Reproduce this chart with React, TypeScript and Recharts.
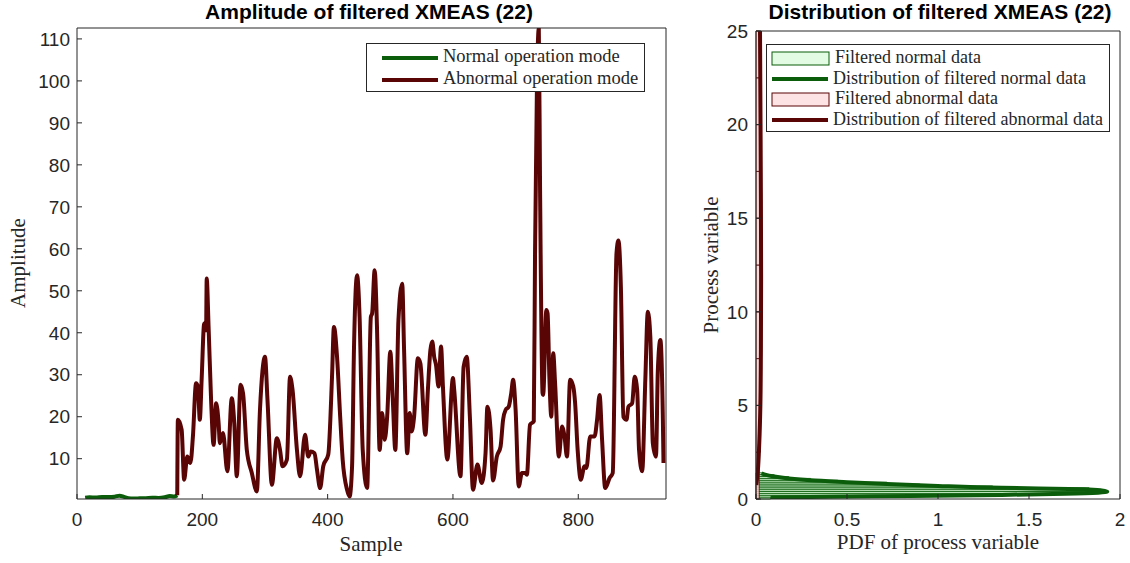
import {
  LineChart,
  ComposedChart,
  Line,
  XAxis,
  YAxis,
  ReferenceArea,
  Legend,
} from 'recharts';

// left panel: filtered XMEAS(22) over samples
const normalSample = [13, 20, 30, 40, 50, 60, 68, 75, 82, 90, 100, 110, 120, 130, 140, 148, 155, 160];
const normalAmp = [0.7, 0.8, 0.75, 0.9, 0.85, 0.95, 1.2, 0.9, 0.6, 0.5, 0.55, 0.6, 0.7, 0.65, 0.8, 1.1, 1.0, 1.3];

const abnormalSample = [
  160, 161, 167, 171, 176, 181, 185, 190, 193, 196, 199, 203, 206, 207, 210, 214, 218, 222, 226, 228,
  233, 240, 247, 251, 255, 261, 265, 271, 279, 287, 292, 300, 304, 311, 319, 324, 328, 335, 340, 344,
  351, 356, 364, 369, 373, 379, 383, 388, 393, 401, 407, 410, 415, 420, 424, 431, 435, 439, 442, 447,
  451, 456, 463, 469, 471, 475, 479, 483, 487, 491, 495, 500, 504, 508, 513, 519, 522, 527, 531, 534,
  538, 544, 548, 556, 560, 564, 567, 570, 573, 577, 581, 584, 591, 600, 602, 612, 617, 622, 627, 632,
  639, 646, 652, 655, 660, 664, 670, 676, 680, 684, 689, 693, 696, 700, 705, 710, 715, 718, 723, 729,
  731, 734, 737, 739, 743, 744, 749, 751, 754, 757, 760, 763, 769, 774, 778, 782, 787, 792, 795, 799,
  804, 810, 813, 819, 826, 830, 834, 838, 843, 850, 855, 861, 864, 868, 872, 877, 880, 886, 890, 894,
  897, 902, 907, 911, 915, 919, 924, 927, 931, 935, 936,
];
const abnormalAmp = [
  1.3, 19.3, 16.9, 5, 10.5, 9, 15.3, 28, 27.2, 19.3, 29.2, 42.2, 40.6, 52.9, 41.4, 24, 13.3, 23.2, 18.5, 13.7,
  16.1, 7, 24.4, 18.5, 5.8, 27.6, 25.6, 12.1, 6.6, 2.2, 21.6, 34.3, 24, 3.8, 14.9, 12.1, 8.2, 9.8, 29.5, 26.4,
  12.1, 5.8, 15.7, 10.5, 11.7, 11.3, 7.4, 3, 8.2, 11, 29.5, 41.4, 34.3, 20, 9.8, 2.6, 1, 8.2, 35.9, 53.7,
  43.8, 12.1, 3, 43.8, 44.6, 54.9, 39.9, 12.1, 20.9, 14.5, 20, 35.5, 24, 12.1, 43, 51.7, 35.9, 11.3, 20.9, 16.5,
  20, 33.9, 32.7, 15.7, 26.4, 35.9, 37.9, 34.3, 32.3, 27.2, 36.7, 27.2, 9.8, 29.2, 26.4, 5.8, 31.9, 34.3, 20, 2.6,
  8.6, 4.2, 11.3, 22.4, 16.9, 4.8, 10.5, 12.9, 19.3, 21.6, 22.4, 25.6, 28.8, 21.6, 3.4, 6.6, 6.6, 6.2, 18.1, 18.9,
  58.9, 98.4, 112.6, 74.7, 25.6, 25.2, 45.4, 44.6, 28.8, 20, 35.1, 28, 10.5, 17.7, 15.3, 10.5, 28.8, 27.2, 23.2, 12.1,
  5, 8.2, 7.8, 15.3, 15.3, 19.3, 25.2, 14.5, 3, 5.4, 6.6, 58.9, 62, 50.9, 20, 19.3, 22.4, 23.2, 29.5, 26.4,
  12.1, 7, 28.8, 45, 39, 13.7, 10.5, 31.1, 38.3, 19.3, 9,
];

const sampleTicks = [0, 200, 400, 600, 800];
const ampTicks = [10, 20, 30, 40, 50, 60, 70, 80, 90, 100, 110];

// right panel: distributions
const normalPdfValue = [0.08, 0.12, 0.16, 0.22, 0.28, 0.34, 0.4, 0.46, 0.52, 0.6, 0.7, 0.8, 0.9, 1.0, 1.1, 1.2, 1.3, 1.38];
const normalPdf = [0.08, 0.4, 0.85, 1.35, 1.7, 1.88, 1.93, 1.9, 1.8, 1.35, 1.0, 0.72, 0.5, 0.3, 0.18, 0.1, 0.05, 0.03];
const normalBinEdges = [0.0, 0.1, 0.2, 0.3, 0.4, 0.5, 0.6, 0.7, 0.8, 0.9, 1.0, 1.1, 1.2, 1.3, 1.4];
const normalBinPdf = [0.08, 0.7, 1.5, 1.86, 1.88, 1.83, 1.3, 0.9, 0.72, 0.45, 0.3, 0.18, 0.1, 0.04];

const abnormalPdfValue = [0.75, 1.5, 3, 5, 8, 12, 16, 20, 25];
const abnormalPdf = [0.002, 0.01, 0.018, 0.024, 0.027, 0.028, 0.027, 0.025, 0.022];
const abnormalBinEdges = [0, 2.5, 5, 7.5, 10, 12.5, 15, 17.5, 20, 22.5, 25];
const abnormalBinPdf = [0.018, 0.024, 0.028, 0.03, 0.029, 0.027, 0.025, 0.024, 0.022, 0.02];

const pdfTicks = [0, 0.5, 1, 1.5, 2];
const valueTicks = [0, 5, 10, 15, 20, 25];

const GREEN = '#0b5d0b';
const MAROON = '#5a0505';
const AXIS = '#262626';
const SANS = '"Liberation Sans", Arial, sans-serif';
const SERIF = '"Liberation Serif", "Times New Roman", serif';

const normalData = normalSample.map((s, i) => ({ s, a: normalAmp[i] }));
const abnormalData = abnormalSample.map((s, i) => ({ s, a: abnormalAmp[i] }));
const normalPdfData = normalPdfValue.map((v, i) => ({ v, pdf: normalPdf[i] }));
const abnormalPdfData = abnormalPdfValue.map((v, i) => ({ v, pdf: abnormalPdf[i] }));

const tickStyle = { fill: AXIS, fontSize: 19, fontFamily: SANS };

const legendBox: React.CSSProperties = {
  display: 'inline-block',
  whiteSpace: 'nowrap',
  border: `1px solid ${AXIS}`,
  background: '#fff',
  fontFamily: SERIF,
  fontSize: 18.5,
  color: AXIS,
  padding: '2px 6px 2px 4px',
  lineHeight: '21px',
};

function LineSample({ color }: { color: string }) {
  return (
    <svg width={58} height={10} style={{ marginRight: 4, verticalAlign: 'middle' }}>
      <line x1={1} y1={5} x2={57} y2={5} stroke={color} strokeWidth={4} />
    </svg>
  );
}

function PatchSample({ fill, stroke }: { fill: string; stroke: string }) {
  return (
    <svg width={60} height={16} style={{ marginRight: 4, verticalAlign: 'middle' }}>
      <rect x={1} y={1} width={57} height={13} fill={fill} stroke={stroke} strokeWidth={1} />
    </svg>
  );
}

function AmplitudeLegend() {
  return (
    <div style={{ ...legendBox, padding: '1px 6px 2px 14px', lineHeight: '22px' }}>
      <div><LineSample color={GREEN} />Normal operation mode</div>
      <div><LineSample color={MAROON} />Abnormal operation mode</div>
    </div>
  );
}

function DistributionLegend() {
  return (
    <div style={{ ...legendBox, fontSize: 18, lineHeight: '20.5px' }}>
      <div><PatchSample fill="#e3fbe3" stroke={GREEN} />Filtered normal data</div>
      <div><LineSample color={GREEN} />Distribution of filtered normal data</div>
      <div><PatchSample fill="#fde3e3" stroke={MAROON} />Filtered abnormal data</div>
      <div><LineSample color={MAROON} />Distribution of filtered abnormal data</div>
    </div>
  );
}

const titleStyle: React.CSSProperties = {
  position: 'absolute',
  top: 0,
  fontFamily: SANS,
  fontWeight: 'bold',
  fontSize: 21,
  color: '#000',
  whiteSpace: 'nowrap',
  transform: 'translateX(-50%)',
};

const labelStyle: React.CSSProperties = {
  position: 'absolute',
  fontFamily: SERIF,
  fontSize: 21,
  color: AXIS,
  whiteSpace: 'nowrap',
};

export default function App() {
  return (
    <div style={{ position: 'absolute', left: 0, top: 0, width: 1130, height: 563, background: '#fff' }}>
      <div style={{ ...titleStyle, left: 369 }}>Amplitude of filtered XMEAS (22)</div>
      <div style={{ ...titleStyle, left: 940 }}>Distribution of filtered XMEAS (22)</div>

      <div style={{ position: 'absolute', left: 0, top: 0 }}>
        <LineChart width={700} height={563} margin={{ top: 27, right: 33, left: 17, bottom: 24 }}>
          <XAxis
            type="number"
            dataKey="s"
            domain={[0, 940]}
            ticks={sampleTicks}
            allowDataOverflow
            stroke={AXIS}
            tickSize={-5}
            tickMargin={19}
            height={40}
            tick={tickStyle}
          />
          <XAxis
            xAxisId="top"
            orientation="top"
            type="number"
            domain={[0, 940]}
            ticks={sampleTicks}
            stroke={AXIS}
            tickSize={-5}
            height={1}
            tickFormatter={() => ''}
          />
          <YAxis
            type="number"
            domain={[0.4, 112.6]}
            ticks={ampTicks}
            allowDataOverflow
            stroke={AXIS}
            tickSize={-5}
            tickMargin={12}
            width={60}
            tick={tickStyle}
          />
          <YAxis
            yAxisId="right"
            orientation="right"
            type="number"
            domain={[0.4, 112.6]}
            ticks={ampTicks}
            stroke={AXIS}
            tickSize={-5}
            width={1}
            tickFormatter={() => ''}
          />
          <Legend
            layout="horizontal"
            align="center"
            verticalAlign="middle"
            content={() => <AmplitudeLegend />}
            wrapperStyle={{ left: 366, top: 43, width: 'auto' }}
          />
          <Line
            data={normalData}
            dataKey="a"
            type="monotone"
            stroke={GREEN}
            strokeWidth={4}
            dot={false}
            isAnimationActive={false}
            name="Normal operation mode"
          />
          <Line
            data={abnormalData}
            dataKey="a"
            type="monotone"
            stroke={MAROON}
            strokeWidth={4}
            dot={false}
            isAnimationActive={false}
            name="Abnormal operation mode"
          />
        </LineChart>
      </div>

      <div style={{ position: 'absolute', left: 690, top: 0 }}>
        <ComposedChart layout="vertical" width={440} height={563} margin={{ top: 30, right: 9, left: 16, bottom: 24 }}>
          <XAxis
            type="number"
            domain={[0, 2]}
            ticks={pdfTicks}
            allowDataOverflow
            stroke={AXIS}
            tickSize={-5}
            tickMargin={19}
            height={40}
            tick={tickStyle}
          />
          <XAxis
            xAxisId="top"
            orientation="top"
            type="number"
            domain={[0, 2]}
            ticks={pdfTicks}
            stroke={AXIS}
            tickSize={-5}
            height={1}
            tickFormatter={() => ''}
          />
          <YAxis
            type="number"
            dataKey="v"
            domain={[0, 25]}
            ticks={valueTicks}
            reversed
            allowDataOverflow
            stroke={AXIS}
            tickSize={-5}
            tickMargin={13}
            width={50}
            tick={tickStyle}
          />
          <YAxis
            yAxisId="right"
            orientation="right"
            type="number"
            domain={[0, 25]}
            ticks={valueTicks}
            reversed
            stroke={AXIS}
            tickSize={-5}
            width={1}
            tickFormatter={() => ''}
          />
          {normalBinPdf.map((p, i) => (
            <ReferenceArea
              key={`n${i}`}
              x1={0}
              x2={p}
              y1={normalBinEdges[i]}
              y2={normalBinEdges[i + 1]}
              fill="#c8f5c8"
              fillOpacity={0.8}
              stroke={GREEN}
              strokeWidth={0.8}
            />
          ))}
          <Line
            data={normalPdfData}
            dataKey="pdf"
            type="monotone"
            stroke={GREEN}
            strokeWidth={4}
            dot={false}
            isAnimationActive={false}
            name="Distribution of filtered normal data"
          />
          {abnormalBinPdf.map((p, i) => (
            <ReferenceArea
              key={`a${i}`}
              x1={0}
              x2={p}
              y1={abnormalBinEdges[i]}
              y2={abnormalBinEdges[i + 1]}
              fill="#fbd0d0"
              fillOpacity={0.8}
              stroke={MAROON}
              strokeWidth={0.8}
            />
          ))}
          <Line
            data={abnormalPdfData}
            dataKey="pdf"
            type="monotone"
            stroke={MAROON}
            strokeWidth={4}
            dot={false}
            isAnimationActive={false}
            name="Distribution of filtered abnormal data"
          />
          <Legend
            layout="horizontal"
            align="center"
            verticalAlign="middle"
            content={() => <DistributionLegend />}
            wrapperStyle={{ left: 76, top: 44, width: 'auto' }}
          />
        </ComposedChart>
      </div>

      <div style={{ ...labelStyle, left: 371, top: 532, transform: 'translateX(-50%)' }}>Sample</div>
      <div style={{ ...labelStyle, left: 938, top: 530, transform: 'translateX(-50%)' }}>PDF of process variable</div>
      <div style={{ ...labelStyle, left: 18, top: 263, transform: 'translate(-50%, -50%) rotate(-90deg)' }}>Amplitude</div>
      <div style={{ ...labelStyle, left: 711, top: 265, transform: 'translate(-50%, -50%) rotate(-90deg)' }}>Process variable</div>
    </div>
  );
}
